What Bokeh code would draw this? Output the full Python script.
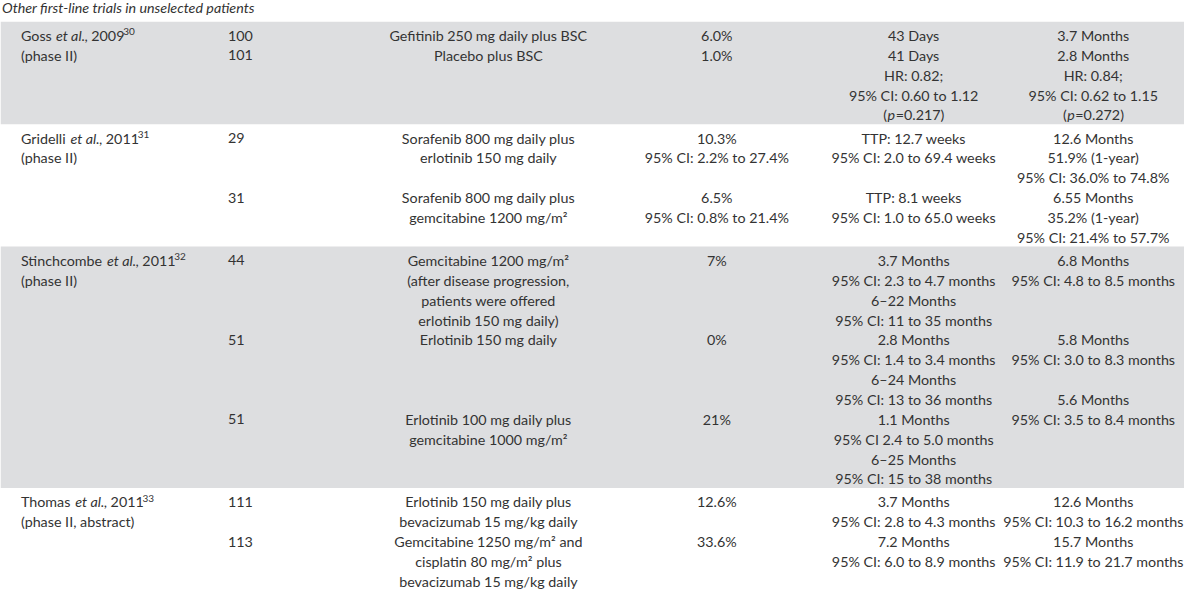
from bokeh.plotting import figure
from bokeh.models import Range1d, ColumnDataSource
from bokeh.embed import file_html
from bokeh.resources import INLINE
from bokeh.core.properties import value

# ---------------- data ----------------
TITLE = "Other first-line trials in unselected patients"

study_authors = ["Goss", "Gridelli", "Stinchcombe", "Thomas"]
study_years = ["2009", "2011", "2011", "2011"]
study_refs = ["30", "31", "32", "33"]
study_designs = ["(phase II)", "(phase II)", "(phase II)", "(phase II, abstract)"]
block_lines = [5, 6, 12, 5]

# (line index within study block, text)
patients = [
    [(0, "100"), (1, "101")],
    [(0, "29"), (3, "31")],
    [(0, "44"), (4, "51"), (8, "51")],
    [(0, "111"), (2, "113")],
]
treatments = [
    [(0, "Gefitinib 250 mg daily plus BSC"), (1, "Placebo plus BSC")],
    [(0, "Sorafenib 800 mg daily plus"), (1, "erlotinib 150 mg daily"),
     (3, "Sorafenib 800 mg daily plus"), (4, "gemcitabine 1200 mg/m\u00b2")],
    [(0, "Gemcitabine 1200 mg/m\u00b2"), (1, "(after disease progression,"),
     (2, "patients were offered"), (3, "erlotinib 150 mg daily)"),
     (4, "Erlotinib 150 mg daily"), (8, "Erlotinib 100 mg daily plus"),
     (9, "gemcitabine 1000 mg/m\u00b2")],
    [(0, "Erlotinib 150 mg daily plus"), (1, "bevacizumab 15 mg/kg daily"),
     (2, "Gemcitabine 1250 mg/m\u00b2 and"), (3, "cisplatin 80 mg/m\u00b2 plus"),
     (4, "bevacizumab 15 mg/kg daily")],
]
response_rate = [
    [(0, "6.0%"), (1, "1.0%")],
    [(0, "10.3%"), (1, "95% CI: 2.2% to 27.4%"), (3, "6.5%"), (4, "95% CI: 0.8% to 21.4%")],
    [(0, "7%"), (4, "0%"), (8, "21%")],
    [(0, "12.6%"), (2, "33.6%")],
]
pfs = [
    [(0, "43 Days"), (1, "41 Days"), (2, "HR: 0.82;"), (3, "95% CI: 0.60 to 1.12"), (4, "(p=0.217)")],
    [(0, "TTP: 12.7 weeks"), (1, "95% CI: 2.0 to 69.4 weeks"),
     (3, "TTP: 8.1 weeks"), (4, "95% CI: 1.0 to 65.0 weeks")],
    [(0, "3.7 Months"), (1, "95% CI: 2.3 to 4.7 months"), (2, "6\u201322 Months"),
     (3, "95% CI: 11 to 35 months"), (4, "2.8 Months"), (5, "95% CI: 1.4 to 3.4 months"),
     (6, "6\u201324 Months"), (7, "95% CI: 13 to 36 months"), (8, "1.1 Months"),
     (9, "95% CI 2.4 to 5.0 months"), (10, "6\u201325 Months"), (11, "95% CI: 15 to 38 months")],
    [(0, "3.7 Months"), (1, "95% CI: 2.8 to 4.3 months"), (2, "7.2 Months"),
     (3, "95% CI: 6.0 to 8.9 months")],
]
overall_survival = [
    [(0, "3.7 Months"), (1, "2.8 Months"), (2, "HR: 0.84;"), (3, "95% CI: 0.62 to 1.15"), (4, "(p=0.272)")],
    [(0, "12.6 Months"), (1, "51.9% (1-year)"), (2, "95% CI: 36.0% to 74.8%"),
     (3, "6.55 Months"), (4, "35.2% (1-year)"), (5, "95% CI: 21.4% to 57.7%")],
    [(0, "6.8 Months"), (1, "95% CI: 4.8 to 8.5 months"), (4, "5.8 Months"),
     (5, "95% CI: 3.0 to 8.3 months"), (7, "5.6 Months"), (8, "95% CI: 3.5 to 8.4 months")],
    [(0, "12.6 Months"), (1, "95% CI: 10.3 to 16.2 months"), (2, "15.7 Months"),
     (3, "95% CI: 11.9 to 21.7 months")],
]

# ---------------- layout (reference pixel space) ----------------
W, H = 1200, 605
FONT = "Lato"
FS_PX = 14.3
FS = "%.1fpx" % FS_PX
SUP_FS = "10px"
TXT = "#333333"
BAND = "#dddee0"
LINE = 20.4
PAD_TOP = 14.3
PAD_BOT = 9.4
FIRST_TOP = 21.7

COL1_X = 20.7
COL2_X = 230.5
COL3_C = 494.5
COL4_C = 726.0
COL5_C = 925.5
COL6_C = 1107.5

# approximate advance widths (em) of Lato, used only to chain mixed-style text pieces
_ADV = {' ': .193, ',': .22, '.': .22, '(': .30, ')': .30, '=': .58, 'G': .74, 'S': .53,
        'T': .60, 'a': .50, 'b': .58, 'c': .48, 'd': .58, 'e': .54, 'h': .58, 'i': .25,
        'l': .25, 'm': .87, 'n': .58, 'o': .58, 'p': .58, 'r': .37, 's': .44, 't': .35}
def tw(s, px=FS_PX):
    return sum(_ADV.get(c, .58) for c in s) * px

p = figure(width=1184, height=589, x_range=Range1d(0, W), y_range=Range1d(H, 0),
           x_axis_type=None, y_axis_type=None, output_backend="svg",
           toolbar_location=None, min_border=0)
p.outline_line_color = None
p.background_fill_color = "white"
p.border_fill_color = "white"

groups = {}
def add(key, x, y, t):
    g = groups.setdefault(key, dict(x=[], y=[], t=[]))
    g["x"].append(x); g["y"].append(y); g["t"].append(t)

band_top, band_bot = [], []
top = FIRST_TOP
for i, n in enumerate(block_lines):
    first = top + PAD_TOP
    ys = [first + k * LINE for k in range(n)]
    bottom = ys[-1] + PAD_BOT
    if i % 2 == 0:
        band_top.append(top); band_bot.append(bottom)
    # column 1: "Author et al., year" + superscript reference
    x = COL1_X
    a = study_authors[i]
    add("left", x, ys[0], a); x += tw(a) + 4.0
    add("italic_left", x, ys[0], "et al."); x += tw("et al.") - 0.5
    yr = ", " + study_years[i]
    add("left", x, ys[0], yr); x += tw(yr) + 0.3
    add("sup", x, ys[0] - 4.0, study_refs[i])
    add("left", COL1_X, ys[1], study_designs[i])
    for k, t in patients[i]:
        add("left", COL2_X, ys[k], t)
    for col, cx in ((treatments, COL3_C), (response_rate, COL4_C),
                    (pfs, COL5_C), (overall_survival, COL6_C)):
        for k, t in col[i]:
            if t.startswith("(p="):
                rest = t[2:]
                total = tw("(") + tw("p") + tw(rest)
                left = cx - total / 2.0
                add("left", left, ys[k], "(")
                add("italic_left", left + tw("("), ys[k], "p")
                add("left", left + tw("(") + tw("p"), ys[k], rest)
            else:
                add("center", cx, ys[k], t)
    top = bottom

p.quad(left=0, right=W, top=band_top, bottom=band_bot, fill_color=BAND, line_color=None)

add("title", 1.5, 7.5, TITLE)

styles = {
    "left": dict(text_align="left", text_font_style="normal", text_font_size=FS),
    "center": dict(text_align="center", text_font_style="normal", text_font_size=FS),
    "italic_left": dict(text_align="left", text_font_style="italic", text_font_size=FS),
    "sup": dict(text_align="left", text_font_style="normal", text_font_size=SUP_FS),
    "title": dict(text_align="left", text_font_style="italic", text_font_size=FS),
}
for key, g in groups.items():
    src = ColumnDataSource(data=g)
    p.text(x="x", y="y", text="t", source=src, text_font=value(FONT),
           text_color=TXT, text_baseline="middle", **styles[key])

open("out.html", "w").write(file_html(p, INLINE))
